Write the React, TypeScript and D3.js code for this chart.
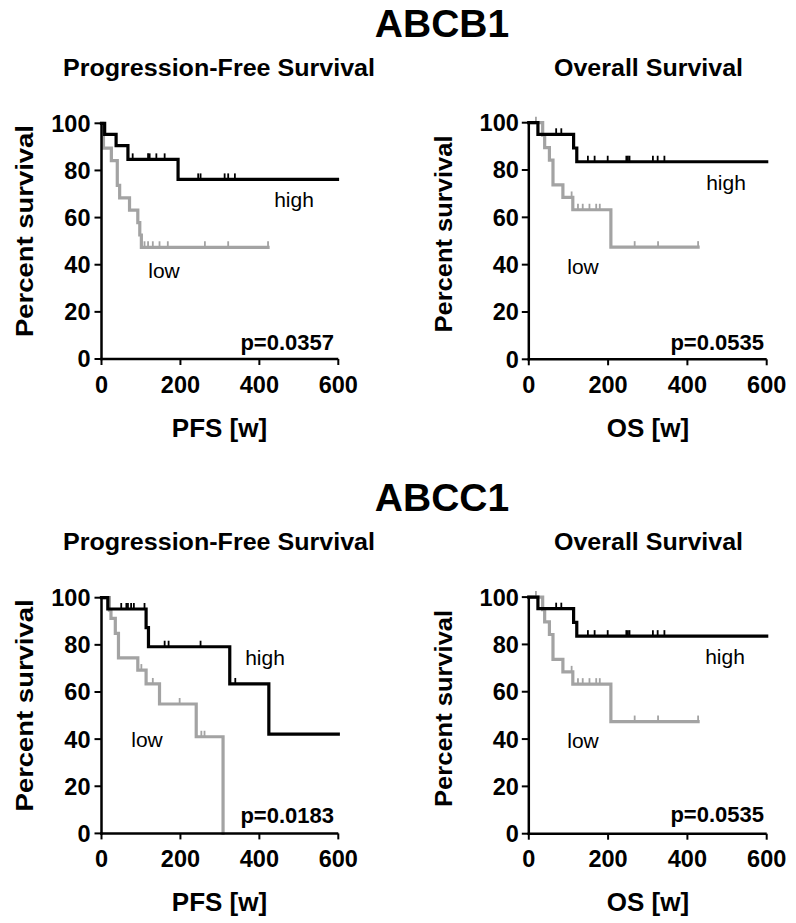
import React from 'react';
import * as d3 from 'd3';

type Step = [number, number];

const xTicks = [0, 200, 400, 600];
const yTicks = [0, 20, 40, 60, 80, 100];
const geneTitles = ['ABCB1', 'ABCC1'];
const panelTitles = ['Progression-Free Survival', 'Overall Survival'];
const xLabels = ['PFS [w]', 'OS [w]'];
const pValues = ['p=0.0357', 'p=0.0535', 'p=0.0183', 'p=0.0535'];

// ABCB1 PFS
const b1PfsHighSteps: Step[] = [[8, 95.3], [37, 90.5], [67, 84.7], [194, 76.2]];
const b1PfsHighCens = [79, 118, 122, 139, 160, 245, 251, 312, 321, 338];
const b1PfsHighEnd = 598;
const b1PfsLowSteps: Step[] = [[3, 94.7], [5, 89.5], [25, 84.2], [40, 73.7], [46, 68.4], [71, 63.2], [92, 57.9], [97, 52.6], [101, 47.4]];
const b1PfsLowCens = [109, 118, 130, 147, 168, 262, 321, 422];
const b1PfsLowEnd = 422;

// ABCB1 OS
const b1OsHighSteps: Step[] = [[23, 95.1], [113, 89.3], [121, 83.5]];
const b1OsHighCens = [69, 82, 149, 166, 199, 246, 250, 254, 313, 325, 342];
const b1OsHighEnd = 600;
const b1OsLowSteps: Step[] = [[35, 94.7], [40, 89.5], [52, 84.2], [61, 73.7], [86, 68.4], [111, 63.2], [207, 47.4]];
const b1OsLowCens = [18, 108, 124, 136, 153, 170, 179, 267, 326, 427];
const b1OsLowEnd = 427;

// ABCC1 PFS
const c1PfsHighSteps: Step[] = [[16, 95.2], [113, 87.3], [119, 79.2], [325, 63.4], [424, 42.1]];
const c1PfsHighCens = [50, 63, 67, 75, 82, 109, 160, 170, 251, 339];
const c1PfsHighEnd = 600;
const c1PfsLowSteps: Step[] = [[20, 94.7], [24, 91.2], [35, 84.9], [43, 74.5], [92, 69.3], [113, 63.4], [147, 54.9], [240, 41], [308, 0]];
const c1PfsLowCens = [101, 130, 198, 253, 261];
const c1PfsLowEnd = 308;

// ABCC1 OS (same cohort as ABCB1 OS)
const c1OsHighSteps: Step[] = [[23, 95.1], [113, 89.3], [121, 83.5]];
const c1OsHighCens = [69, 82, 149, 166, 199, 246, 250, 254, 313, 325, 342];
const c1OsHighEnd = 600;
const c1OsLowSteps: Step[] = [[35, 94.7], [40, 89.5], [52, 84.2], [61, 73.7], [86, 68.4], [111, 63.2], [207, 47.4]];
const c1OsLowCens = [18, 108, 124, 136, 153, 170, 179, 267, 326, 427];
const c1OsLowEnd = 427;

const FONT = '"Liberation Sans", Arial, Helvetica, sans-serif';
const BLACK = '#000';
const GRAY = '#a3a3a3';

interface CurveDef { steps: Step[]; cens: number[]; end: number; }

const panels = [
  { row: 0, col: 0, high: { steps: b1PfsHighSteps, cens: b1PfsHighCens, end: b1PfsHighEnd }, low: { steps: b1PfsLowSteps, cens: b1PfsLowCens, end: b1PfsLowEnd }, p: pValues[0],
    highPos: [294, 207], lowPos: [164, 278], pPos: [334, 350] },
  { row: 0, col: 1, high: { steps: b1OsHighSteps, cens: b1OsHighCens, end: b1OsHighEnd }, low: { steps: b1OsLowSteps, cens: b1OsLowCens, end: b1OsLowEnd }, p: pValues[1],
    highPos: [726, 190], lowPos: [583, 274], pPos: [764, 350] },
  { row: 1, col: 0, high: { steps: c1PfsHighSteps, cens: c1PfsHighCens, end: c1PfsHighEnd }, low: { steps: c1PfsLowSteps, cens: c1PfsLowCens, end: c1PfsLowEnd }, p: pValues[2],
    highPos: [265, 665], lowPos: [147, 747], pPos: [334, 823] },
  { row: 1, col: 1, high: { steps: c1OsHighSteps, cens: c1OsHighCens, end: c1OsHighEnd }, low: { steps: c1OsLowSteps, cens: c1OsLowCens, end: c1OsLowEnd }, p: pValues[3],
    highPos: [725, 664], lowPos: [583, 748], pPos: [764, 822] },
];

const ROW_OFF = 474.4;
const colGeom = [
  { x0: 101.5, x1: 338.3, top: 123.3, bottom: 359, labelGap: 11, yLabelX: 32.5, yLabelLen: 212, yLabelMid: 231, titleX: 219, titleLen: 312, xLabelX: 219.5 },
  { x0: 528.8, x1: 766.7, top: 122.7, bottom: 359.3, labelGap: 10, yLabelX: 452, yLabelLen: 197, yLabelMid: 234, titleX: 648.5, titleLen: 189, xLabelX: 648 },
];

function Curve({ def, x, y, color }: { def: CurveDef; x: any; y: any; color: string }) {
  const last = def.steps[def.steps.length - 1][1];
  const pts: Step[] = [[0, 100], ...def.steps, [def.end, last]];
  const line = d3.line<Step>().x(d => x(d[0])).y(d => y(d[1])).curve(d3.curveStepAfter);
  const surv = (t: number) => {
    let s = 100;
    for (const [tt, v] of def.steps) if (tt <= t) s = v;
    return s;
  };
  return (
    <g>
      <path d={line(pts) || ''} fill="none" stroke={color} strokeWidth={3.2} strokeLinejoin="miter" strokeLinecap="square" />
      {def.cens.map((c, i) => (
        <line key={i} x1={x(c)} x2={x(c)} y1={y(surv(c)) - 6} y2={y(surv(c))} stroke={color} strokeWidth={1.8} />
      ))}
    </g>
  );
}

function Panel({ pd }: { pd: typeof panels[number] }) {
  const g = colGeom[pd.col];
  const off = pd.row * ROW_OFF;
  const x = d3.scaleLinear().domain([0, 600]).range([g.x0, g.x1]);
  const y = d3.scaleLinear().domain([0, 100]).range([g.bottom + off, g.top + off]);
  return (
    <g fontFamily={FONT}>
      <text x={g.titleX} y={76 + off} textAnchor="middle" fontWeight="bold" fontSize={23}
        textLength={g.titleLen} lengthAdjust="spacingAndGlyphs">{panelTitles[pd.col]}</text>
      <Curve def={pd.low} x={x} y={y} color={GRAY} />
      <Curve def={pd.high} x={x} y={y} color={BLACK} />
      <line x1={g.x0} x2={g.x0} y1={y(100) - 1} y2={y(0) + 1.25} stroke={BLACK} strokeWidth={2.5} />
      <line x1={g.x0 - 1.25} x2={g.x1} y1={y(0)} y2={y(0)} stroke={BLACK} strokeWidth={2.5} />
      {yTicks.map(t => (
        <g key={'y' + t}>
          <line x1={g.x0 - 7} x2={g.x0} y1={y(t)} y2={y(t)} stroke={BLACK} strokeWidth={2} />
          <text x={g.x0 - g.labelGap} y={y(t)} dy="0.36em" textAnchor="end" fontWeight="bold" fontSize={23.5}>{t}</text>
        </g>
      ))}
      {xTicks.map(t => (
        <g key={'x' + t}>
          <line x1={x(t)} x2={x(t)} y1={y(0)} y2={y(0) + 6} stroke={BLACK} strokeWidth={2} />
          <text x={x(t)} y={393 + off} textAnchor="middle" fontWeight="bold" fontSize={23.5}>{t}</text>
        </g>
      ))}
      <text x={g.xLabelX} y={437 + off} textAnchor="middle" fontWeight="bold" fontSize={26}>{xLabels[pd.col]}</text>
      <text transform={`translate(${g.yLabelX},${g.yLabelMid + off}) rotate(-90)`} textAnchor="middle" fontWeight="bold" fontSize={23}
        textLength={g.yLabelLen} lengthAdjust="spacingAndGlyphs">Percent survival</text>
      <text x={pd.highPos[0]} y={pd.highPos[1]} textAnchor="middle" fontSize={21}>high</text>
      <text x={pd.lowPos[0]} y={pd.lowPos[1]} textAnchor="middle" fontSize={21}>low</text>
      <text x={pd.pPos[0]} y={pd.pPos[1]} textAnchor="end" fontWeight="bold" fontSize={22}>{pd.p}</text>
    </g>
  );
}

export default function App() {
  return (
    <svg width={796} height={923} style={{ position: 'absolute', left: 0, top: 0, background: '#fff' }}>
      <rect width={796} height={923} fill="#fff" />
      {geneTitles.map((t, i) => (
        <text key={t} x={442} y={37 + i * ROW_OFF} textAnchor="middle" fontFamily={FONT} fontWeight="bold" fontSize={39}>{t}</text>
      ))}
      {panels.map((pd, i) => <Panel key={i} pd={pd} />)}
    </svg>
  );
}
